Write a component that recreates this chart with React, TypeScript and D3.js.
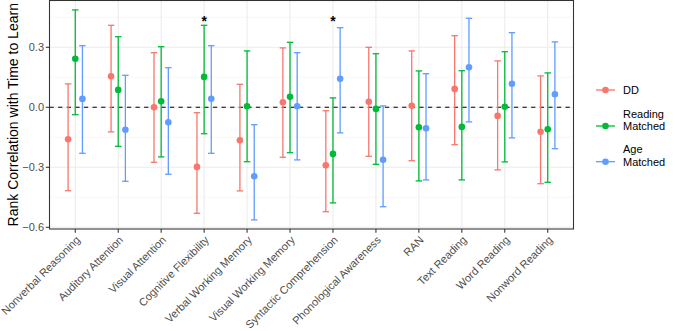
import React from "react";
import * as d3 from "d3";

const categories = [
  "Nonverbal Reasoning",
  "Auditory Attention",
  "Visual Attention",
  "Cognitive Flexibility",
  "Verbal Working Memory",
  "Visual Working Memory",
  "Syntactic Comprehension",
  "Phonological Awareness",
  "RAN",
  "Text Reading",
  "Word Reading",
  "Nonword Reading",
];

const groups = ["DD", "Reading Matched", "Age Matched"];
const groupColors = ["#F8766D", "#00BA38", "#619CFF"];

// estimate, lower, upper per category
const ddEst = [-0.16, 0.155, 0.0, -0.298, -0.165, 0.025, -0.29, 0.028, 0.008, 0.092, -0.043, -0.122];
const ddLow = [-0.417, -0.123, -0.275, -0.53, -0.418, -0.25, -0.522, -0.245, -0.267, -0.187, -0.313, -0.382];
const ddHigh = [0.117, 0.41, 0.273, -0.027, 0.115, 0.297, -0.017, 0.3, 0.282, 0.358, 0.232, 0.157];

const rmEst = [0.243, 0.087, 0.03, 0.152, 0.005, 0.053, -0.233, -0.008, -0.1, -0.098, 0.003, -0.11];
const rmLow = [-0.037, -0.195, -0.248, -0.132, -0.272, -0.227, -0.478, -0.285, -0.368, -0.363, -0.273, -0.375];
const rmHigh = [0.487, 0.353, 0.303, 0.41, 0.282, 0.325, 0.047, 0.268, 0.182, 0.183, 0.278, 0.172];

const amEst = [0.042, -0.112, -0.075, 0.043, -0.345, 0.005, 0.143, -0.262, -0.105, 0.2, 0.118, 0.065];
const amLow = [-0.23, -0.37, -0.335, -0.23, -0.563, -0.263, -0.128, -0.497, -0.363, -0.073, -0.153, -0.207];
const amHigh = [0.308, 0.16, 0.198, 0.308, -0.087, 0.273, 0.398, 0.007, 0.168, 0.445, 0.373, 0.327];

const significant = ["Cognitive Flexibility", "Syntactic Comprehension"];
const starValue = 0.448;

const yTicks = [-0.6, -0.3, 0.0, 0.3];
const yMinor = [-0.45, -0.15, 0.15, 0.45];

const W = 675;
const H = 331;
const panel = { left: 49.5, right: 573.5, top: 0.5, bottom: 229 };
const font = "'Liberation Sans', Arial, Helvetica, sans-serif";

export default function App() {
  const x = d3
    .scalePoint<string>()
    .domain(categories)
    .range([panel.left, panel.right])
    .padding(0.6);
  const step = x.step();
  const y = d3.scaleLinear().domain([-0.6085, 0.534]).range([panel.bottom, panel.top]);

  const series = [
    { est: ddEst, low: ddLow, high: ddHigh },
    { est: rmEst, low: rmLow, high: rmHigh },
    { est: amEst, low: amLow, high: amHigh },
  ];
  const dodge = (gi: number) => (gi - 1) * step / 6;
  const capHalf = step * 0.075;

  const legendRows = [
    { lines: ["DD"], keyY: 90 },
    { lines: ["Reading", "Matched"], keyY: 126 },
    { lines: ["Age", "Matched"], keyY: 161.7 },
  ];

  return (
    <svg
      width={W}
      height={H}
      style={{ position: "absolute", left: 0, top: 0, background: "#fff" }}
      fontFamily={font}
    >
      <rect x={0} y={0} width={W} height={H} fill="#fff" />
      {/* grid */}
      {yMinor.map((v) => (
        <line key={"ym" + v} x1={panel.left} x2={panel.right} y1={y(v)} y2={y(v)} stroke="#F2F2F2" strokeWidth={0.55} />
      ))}
      {yTicks.map((v) => (
        <line key={"yg" + v} x1={panel.left} x2={panel.right} y1={y(v)} y2={y(v)} stroke="#EBEBEB" strokeWidth={1.07} />
      ))}
      {categories.map((c) => (
        <line key={"xg" + c} x1={x(c)!} x2={x(c)!} y1={panel.top} y2={panel.bottom} stroke="#EBEBEB" strokeWidth={1.07} />
      ))}
      {/* zero line */}
      <line
        x1={panel.left}
        x2={panel.right}
        y1={y(0)}
        y2={y(0)}
        stroke="#000"
        strokeWidth={1.1}
        strokeDasharray="4.3,4.3"
      />
      {/* error bars and points */}
      {series.map((s, gi) =>
        categories.map((c, i) => {
          const cx = x(c)! + dodge(gi);
          const col = groupColors[gi];
          return (
            <g key={gi + "-" + c}>
              <line x1={cx} x2={cx} y1={y(s.low[i])} y2={y(s.high[i])} stroke={col} strokeWidth={1.3} />
              <line x1={cx - capHalf} x2={cx + capHalf} y1={y(s.low[i])} y2={y(s.low[i])} stroke={col} strokeWidth={1.3} />
              <line x1={cx - capHalf} x2={cx + capHalf} y1={y(s.high[i])} y2={y(s.high[i])} stroke={col} strokeWidth={1.3} />
              <circle cx={cx} cy={y(s.est[i])} r={3.3} fill={col} />
            </g>
          );
        })
      )}
      {/* asterisks */}
      {significant.map((c) => (
        <text key={"s" + c} x={x(c)!} y={y(starValue) + 8} textAnchor="middle" fontSize={14} fontWeight="bold" fill="#000">
          *
        </text>
      ))}
      {/* panel border */}
      <rect
        x={panel.left}
        y={panel.top}
        width={panel.right - panel.left}
        height={panel.bottom - panel.top}
        fill="none"
        stroke="#333333"
        strokeWidth={1.07}
      />
      {/* y axis */}
      {yTicks.map((v) => (
        <g key={"yt" + v}>
          <line x1={panel.left - 3.7} x2={panel.left} y1={y(v)} y2={y(v)} stroke="#333333" strokeWidth={1.07} />
          <text x={panel.left - 5.5} y={y(v)} dy="0.35em" textAnchor="end" fontSize={11} fill="#4D4D4D">
            {d3.format(".1f")(v)}
          </text>
        </g>
      ))}
      <text
        transform={`translate(17.5, ${(panel.top + panel.bottom) / 2}) rotate(-90)`}
        textAnchor="middle"
        fontSize={14}
        fill="#000"
      >
        Rank Correlation with Time to Learn
      </text>
      {/* x axis */}
      {categories.map((c) => (
        <g key={"xt" + c}>
          <line x1={x(c)!} x2={x(c)!} y1={panel.bottom} y2={panel.bottom + 3.7} stroke="#333333" strokeWidth={1.07} />
          <text
            transform={`translate(${x(c)!}, ${panel.bottom + 6}) rotate(-45)`}
            textAnchor="end"
            dy="0.72em"
            fontSize={11}
            fill="#4D4D4D"
          >
            {c}
          </text>
        </g>
      ))}
      {/* legend */}
      {legendRows.map((r, gi) => (
        <g key={"lg" + gi}>
          <line x1={596} x2={615} y1={r.keyY} y2={r.keyY} stroke={groupColors[gi]} strokeWidth={1.3} />
          <circle cx={605.5} cy={r.keyY} r={3.3} fill={groupColors[gi]} />
          {r.lines.map((ln, li) => (
            <text
              key={li}
              x={623}
              y={r.keyY - (r.lines.length - 1 - li) * 12.3}
              dy="0.35em"
              fontSize={11}
              fill="#000"
            >
              {ln}
            </text>
          ))}
        </g>
      ))}
    </svg>
  );
}
